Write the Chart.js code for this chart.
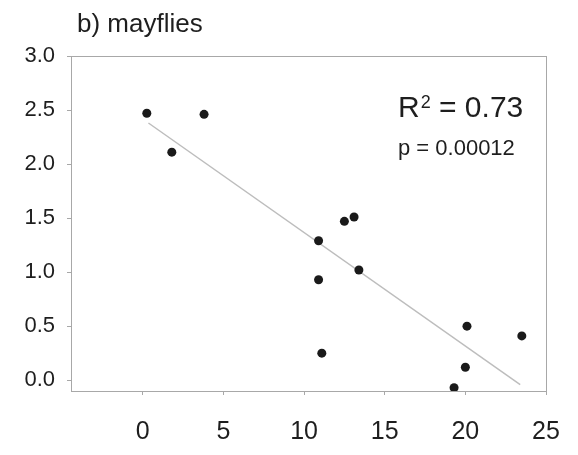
<!DOCTYPE html>
<html>
<head>
<meta charset="utf-8">
<script src="https://cdn.jsdelivr.net/npm/chart.js@4/dist/chart.umd.min.js"></script>
<style>
  html, body { margin: 0; padding: 0; background: #fff; }
  #wrap { width: 578px; height: 455px; }
</style>
</head>
<body>
<div id="wrap"><canvas id="mayflyChart" width="578" height="455"></canvas></div>
<script>
// mayflies panel: points
const mayflyX = [0.25, 1.8, 3.8, 10.9, 10.9, 11.1, 12.5, 13.1, 13.4, 19.3, 20.0, 20.1, 23.5];
const mayflyY = [2.47, 2.11, 2.46, 1.29, 0.93, 0.25, 1.47, 1.51, 1.02, -0.07, 0.12, 0.50, 0.41];

// fitted line ends
const fitX = [0.35, 23.4];
const fitY = [2.38, -0.04];

const xTicks = [0, 5, 10, 15, 20, 25];
const yTicks = [0, 0.5, 1.0, 1.5, 2.0, 2.5, 3.0];

const titleText = 'b) mayflies';
const r2Text = '0.73';
const pText = 'p = 0.00012';

const FONT = '"Liberation Sans", Arial, sans-serif';
const INK = '#1e1e1e';
const FRAME = '#a8a8a8';

const framePlugin = {
  id: 'frame',
  beforeDatasetsDraw(chart) {
    const { ctx, chartArea: a } = chart;
    ctx.save();
    ctx.strokeStyle = FRAME;
    ctx.lineWidth = 1;
    ctx.strokeRect(a.left + 0.5, a.top + 0.5, a.right - a.left, a.bottom - a.top);
    ctx.restore();
  }
};

const textPlugin = {
  id: 'texts',
  afterDraw(chart) {
    const { ctx, chartArea: a } = chart;
    ctx.save();
    ctx.fillStyle = INK;
    ctx.textAlign = 'left';
    ctx.textBaseline = 'alphabetic';

    ctx.font = '26px ' + FONT;
    ctx.fillText(titleText, a.left + 6, a.top - 24);

    // R² = 0.73
    let x = a.left + 327;
    const base = a.top + 61;
    ctx.font = '30px ' + FONT;
    ctx.fillText('R', x, base);
    x += ctx.measureText('R').width + 1;
    ctx.font = '18px ' + FONT;
    ctx.fillText('2', x, base - 9);
    x += ctx.measureText('2').width;
    ctx.font = '30px ' + FONT;
    ctx.fillText(' = ' + r2Text, x, base);

    ctx.font = '22px ' + FONT;
    ctx.fillText(pText, a.left + 327, a.top + 99);
    ctx.restore();
  }
};

new Chart(document.getElementById('mayflyChart'), {
  type: 'scatter',
  data: {
    datasets: [
      {
        label: 'mayflies',
        data: mayflyX.map((v, i) => ({ x: v, y: mayflyY[i] })),
        pointRadius: 4.5,
        pointBackgroundColor: '#1a1a1a',
        pointBorderColor: '#1a1a1a',
        pointBorderWidth: 0
      },
      {
        label: 'fit',
        data: fitX.map((v, i) => ({ x: v, y: fitY[i] })),
        showLine: true,
        pointRadius: 0,
        borderColor: '#bdbdbd',
        borderWidth: 1.5
      }
    ]
  },
  options: {
    responsive: false,
    animation: false,
    layout: { padding: { top: 56, right: 32, left: 0, bottom: 0 } },
    plugins: { legend: { display: false }, tooltip: { enabled: false } },
    scales: {
      x: {
        type: 'linear',
        min: -4.45,
        max: 25,
        afterBuildTicks: s => { s.ticks = xTicks.map(v => ({ value: v })); },
        afterFit: s => { s.height = 64; s.paddingRight = 0; s.paddingLeft = 0; },
        border: { display: false },
        grid: { drawOnChartArea: false, drawTicks: true, tickLength: 4, color: FRAME },
        ticks: { color: INK, font: { family: FONT, size: 25 }, padding: 22, maxRotation: 0 }
      },
      y: {
        type: 'linear',
        min: -0.1,
        max: 3.0,
        afterBuildTicks: s => { s.ticks = yTicks.map(v => ({ value: v })); },
        afterFit: s => { s.width = 71; s.paddingTop = 0; s.paddingBottom = 0; },
        border: { display: false },
        grid: { drawOnChartArea: false, drawTicks: true, tickLength: 4, color: FRAME },
        ticks: { color: INK, font: { family: FONT, size: 22 }, padding: 12, callback: v => v.toFixed(1) }
      }
    }
  },
  plugins: [framePlugin, textPlugin]
});
</script>
</body>
</html>
